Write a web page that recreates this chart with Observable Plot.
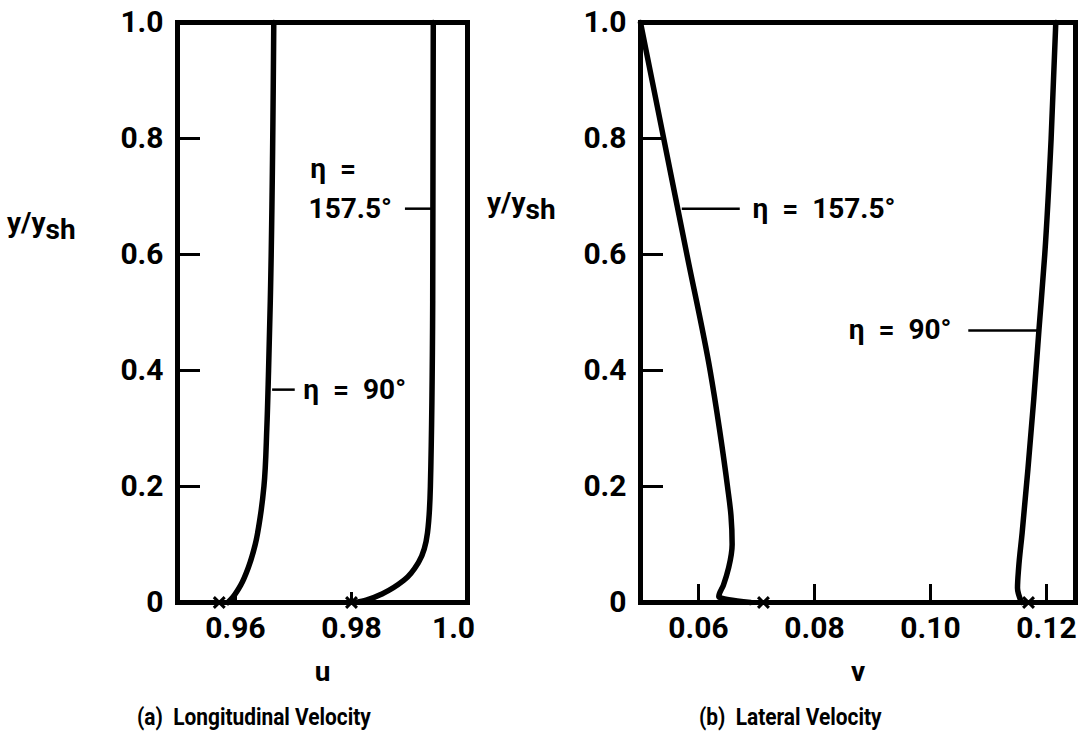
<!DOCTYPE html>
<html><head><meta charset="utf-8">
<script src="https://cdn.jsdelivr.net/npm/d3@7"></script>
<script src="https://cdn.jsdelivr.net/npm/@observablehq/plot@0.6"></script>
<style>
body{margin:0;background:#fff;}
#wrap{position:relative;width:1081px;height:741px;font-family:Roboto,"DejaVu Sans",sans-serif;font-weight:bold;color:#000;}
.panel{position:absolute;top:0;}
.cap{position:absolute;top:702px;font-size:24px;line-height:30px;white-space:pre;transform:scaleX(0.87);transform-origin:left center;}
</style></head><body><div id="wrap"></div>
<script>
// ---- data ----
const yTicks = [0, 0.2, 0.4, 0.6, 0.8, 1.0];
const uTicks = [0.96, 0.98, 1.0];
const vTicks = [0.06, 0.08, 0.10, 0.12];

// (a) longitudinal velocity u vs y/ysh
const u90_y    = [1.0, 0.52, 0.4, 0.3, 0.2, 0.15, 0.1, 0.06, 0.03, 0.01, 0.0];
const u90_u    = [0.9666, 0.9660, 0.9657, 0.9654, 0.9649, 0.9643, 0.9634, 0.9622, 0.9609, 0.9596, 0.9587];
const u157_y   = [1.0, 0.52, 0.2, 0.12, 0.07, 0.038, 0.016, 0.004, 0.0];
const u157_u   = [0.9941, 0.9940, 0.9936, 0.9931, 0.9916, 0.9890, 0.9855, 0.9825, 0.9808];
const uWall    = [0.9572, 0.9800];

// (b) lateral velocity v vs y/ysh
const v157_y   = [1.0, 0.8, 0.6, 0.4, 0.3, 0.2, 0.15, 0.1, 0.06, 0.03, 0.01, 0.0];
const v157_v   = [0.0500, 0.0540, 0.0580, 0.0620, 0.0636, 0.0650, 0.0656, 0.0658, 0.0652, 0.0643, 0.0635, 0.0690];
const v90_y    = [1.0, 0.8, 0.6, 0.47, 0.35, 0.23, 0.12, 0.06, 0.025, 0.0];
const v90_v    = [0.1216, 0.1208, 0.1197, 0.1187, 0.1178, 0.1168, 0.1158, 0.1152, 0.1150, 0.1157];
const vWall    = [0.0712, 0.1169];

// annotation labels (data coordinates)
const uLabels  = [{x: 0.9729, y: 0.748, t: "η  ="}, {x: 0.9726, y: 0.679, t: "157.5°"}, {x: 0.9717, y: 0.367, t: "η  =  90°"}];
const uLeaders = [{x1: 0.9893, x2: 0.9938, y: 0.679}, {x1: 0.9664, x2: 0.9703, y: 0.367}];
const vLabels  = [{x: 0.0693, y: 0.679, t: "η  =  157.5°"}, {x: 0.0859, y: 0.469, t: "η  =  90°"}];
const vLeaders = [{x1: 0.0572, x2: 0.0672, y: 0.679}, {x1: 0.1066, x2: 0.1186, y: 0.469}];

// ---- build ----
function rows(ys, xs, s){ return ys.map((y,i)=>({y, x: xs[i], s})); }
const H = 700, MT = 22, MB = 98;
const yFmt = d => d === 0 ? "0" : d.toFixed(1);

function panel(o){
  const fw = o.width - o.marginLeft - o.marginRight;
  const fh = H - MT - MB;
  const main = o.ticks.filter(d => d !== o.endTick);
  const svg = Plot.plot({
    width: o.width, height: H, marginTop: MT, marginBottom: MB,
    marginLeft: o.marginLeft, marginRight: o.marginRight,
    x: {domain: o.domain, label: null},
    y: {domain: [0, 1], label: null},
    style: {fontFamily: "Roboto, 'DejaVu Sans', sans-serif", fontWeight: "bold", fontSize: "30px", color: "#000", background: "transparent", overflow: "visible"},
    marks: [
      Plot.axisY(yTicks, {tickSize: 0, tickPadding: 14, tickFormat: yFmt, fontSize: 30}),
      Plot.axisX(main, {tickSize: 0, tickPadding: 14, tickFormat: o.fmt, fontSize: 30}),
      o.endTick != null ? Plot.axisX([o.endTick], {tickSize: 0, tickPadding: 14, tickFormat: o.fmt, fontSize: 30, dx: -14}) : null,
      Plot.tickY(yTicks.filter(d => d > 0 && d < 1), {y: d => d, insetRight: fw - 23, strokeWidth: 3}),
      Plot.tickX(o.ticks, {x: d => d, insetTop: fh - o.xtick, strokeWidth: 3}),
      Plot.line(o.data, {x: "x", y: "y", z: "s", curve: "monotone-y", strokeWidth: 5.5, stroke: "#000"}),
      Plot.dot(o.wall, {x: d => d, y: 0, symbol: "times", r: 5, strokeWidth: 3, stroke: "#000"}),
      Plot.ruleY(o.leaders, {x1: "x1", x2: "x2", y: "y", strokeWidth: 2.5}),
      Plot.text(o.labels, {x: "x", y: "y", text: "t", textAnchor: "start", fontSize: 28, fontWeight: "bold"}),
      Plot.text([o.xLabel], {frameAnchor: "bottom", dy: 78, fontSize: 28, fontWeight: "bold"}),
      Plot.frame({strokeWidth: 5})
    ]
  });
  // y-axis title with subscript
  const t = d3.select(svg).append("text")
    .attr("x", 7).attr("y", o.ylabY).attr("text-anchor", "start")
    .attr("font-size", 28).attr("font-weight", "bold").attr("fill", "#000");
  t.append("tspan").text("y/y");
  t.append("tspan").attr("dy", 7).text("sh");
  svg.classList.add("panel");
  svg.style.left = o.left + "px";
  return svg;
}

const wrap = document.getElementById("wrap");
wrap.appendChild(panel({
  left: 0, width: 480, marginLeft: 177, marginRight: 13,
  domain: [0.95, 1.0], ticks: uTicks, endTick: 1.0, fmt: d => d === 1 ? "1.0" : d.toFixed(2), xtick: 10,
  data: [...rows(u90_y, u90_u, "90"), ...rows(u157_y, u157_u, "157.5")],
  wall: uWall, labels: uLabels, leaders: uLeaders, xLabel: "u", ylabY: 232
}));
wrap.appendChild(panel({
  left: 480, width: 601, marginLeft: 160, marginRight: 6,
  domain: [0.05, 0.125], ticks: vTicks, endTick: null, fmt: d => d.toFixed(2), xtick: 18,
  data: [...rows(v157_y, v157_v, "157.5"), ...rows(v90_y, v90_v, "90")],
  wall: vWall, labels: vLabels, leaders: vLeaders, xLabel: "v", ylabY: 212
}));
const c1 = document.createElement("div"); c1.className = "cap"; c1.style.left = "137px"; c1.textContent = "(a)  Longitudinal Velocity";
const c2 = document.createElement("div"); c2.className = "cap"; c2.style.left = "699px"; c2.textContent = "(b)  Lateral Velocity";
wrap.appendChild(c1); wrap.appendChild(c2);
</script>
</body></html>
